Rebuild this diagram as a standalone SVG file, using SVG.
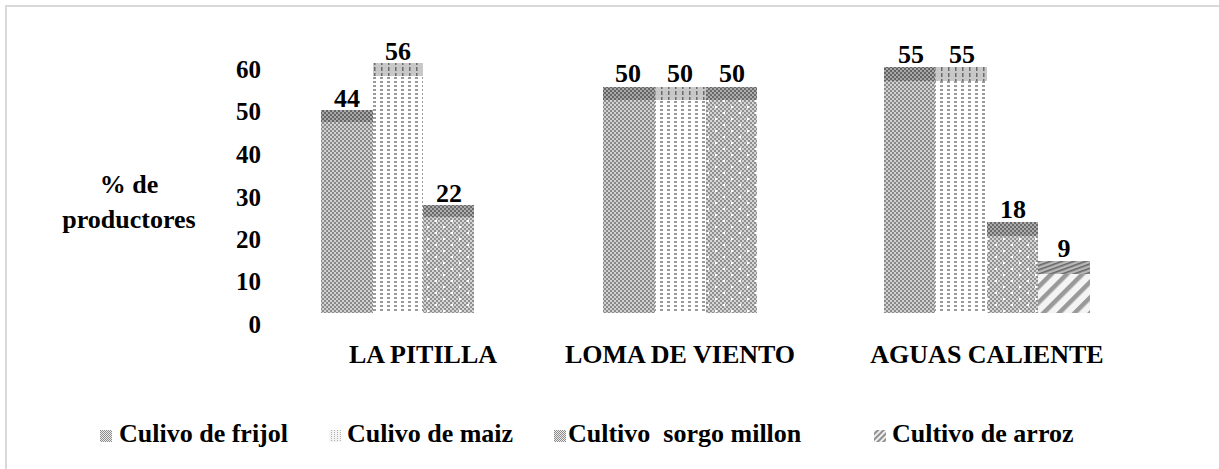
<svg xmlns="http://www.w3.org/2000/svg" width="1219" height="469" viewBox="0 0 1219 469">
<style>
  text { font-family: 'Liberation Serif', 'Tinos', 'Times New Roman', 'DejaVu Serif', serif; font-weight: 700; fill: #000; }
  .ax { font-size: 25px; text-anchor: end; }
  .val { font-size: 26px; text-anchor: middle; }
  .cat { font-size: 26px; text-anchor: middle; }
  .leg { font-size: 26px; white-space: pre; }
  .frame { stroke: #d9d9d9; stroke-width: 2; fill: none; }
</style>
<defs>
  <pattern id="pFrijol" width="4" height="4" patternUnits="userSpaceOnUse">
    <rect width="4" height="4" fill="#d2d2d2"/>
    <rect x="0" y="0" width="2" height="2" fill="#8a8a8a"/>
    <rect x="2" y="2" width="2" height="2" fill="#8a8a8a"/>
  </pattern>
  <pattern id="pFrijolCap" width="4" height="4" patternUnits="userSpaceOnUse">
    <rect width="4" height="4" fill="#a8a8a8"/>
    <rect x="0" y="0" width="2" height="2" fill="#656565"/>
    <rect x="2" y="2" width="2" height="2" fill="#656565"/>
  </pattern>
  <pattern id="pMaiz" width="7" height="4" patternUnits="userSpaceOnUse">
    <rect width="7" height="4" fill="#ffffff"/>
    <rect x="2" y="1" width="3" height="2" fill="#9a9a9a"/>
  </pattern>
  <pattern id="pMaizCap" width="7" height="6" patternUnits="userSpaceOnUse">
    <rect width="7" height="6" fill="#c8c8c8"/>
    <rect x="3" y="1" width="1.5" height="4" fill="#6a6a6a"/>
  </pattern>
  <pattern id="pSorgo" width="16" height="12" patternUnits="userSpaceOnUse">
    <rect width="16" height="12" fill="#d6d6d6"/>
    <path d="M0 0h2v2h-2zM4 0h2v2h-2zM8 0h2v2h-2zM12 0h2v2h-2zM2 2h2v2h-2zM6 2h2v2h-2zM10 2h2v2h-2zM14 2h2v2h-2zM0 4h2v2h-2zM4 4h2v2h-2zM8 4h2v2h-2zM12 4h2v2h-2zM2 6h2v2h-2zM6 6h2v2h-2zM10 6h2v2h-2zM14 6h2v2h-2zM0 8h2v2h-2zM4 8h2v2h-2zM8 8h2v2h-2zM12 8h2v2h-2zM2 10h2v2h-2zM6 10h2v2h-2zM10 10h2v2h-2zM14 10h2v2h-2z" fill="#909090"/>
    <rect x="3" y="4" width="2" height="2" fill="#ffffff"/>
    <rect x="11" y="10" width="2" height="2" fill="#ffffff"/>
  </pattern>
  <pattern id="pSorgoCap" width="4" height="4" patternUnits="userSpaceOnUse">
    <rect width="4" height="4" fill="#acacac"/>
    <rect x="0" y="0" width="2" height="2" fill="#6a6a6a"/>
    <rect x="2" y="2" width="2" height="2" fill="#6a6a6a"/>
  </pattern>
  <pattern id="pArroz" width="11" height="11" patternUnits="userSpaceOnUse" patternTransform="rotate(45)">
    <rect width="11" height="11" fill="#f4f4f4"/>
    <rect x="0" y="0" width="4.5" height="11" fill="#999999"/>
  </pattern>
  <pattern id="pArrozCap" width="4" height="4" patternUnits="userSpaceOnUse" patternTransform="rotate(-20)">
    <rect width="4" height="4" fill="#b8b8b8"/>
    <rect x="0" y="0" width="4" height="1.6" fill="#666666"/>
  </pattern>
  <pattern id="pLeg" width="2" height="2" patternUnits="userSpaceOnUse">
    <rect width="2" height="2" fill="#ececec"/>
    <rect width="1" height="1" fill="#8c8c8c"/>
    <rect x="1" y="1" width="1" height="1" fill="#8c8c8c"/>
  </pattern>
  <pattern id="pLegMaiz" width="3" height="2" patternUnits="userSpaceOnUse">
    <rect width="3" height="2" fill="#f4f4f4"/>
    <rect x="1" y="0" width="1" height="1" fill="#b0b0b0"/>
  </pattern>
  <pattern id="pLegArroz" width="4" height="4" patternUnits="userSpaceOnUse" patternTransform="rotate(45)">
    <rect width="4" height="4" fill="#eeeeee"/>
    <rect width="2" height="4" fill="#909090"/>
  </pattern>
</defs>

<rect width="1219" height="469" fill="#ffffff"/>
<g id="frame">
  <line class="frame" x1="5" y1="6" x2="1219" y2="6"/>
  <line class="frame" x1="6" y1="5" x2="6" y2="469"/>
</g>

<g id="y-axis">
  <text class="ax" x="261" y="78">60</text>
  <text class="ax" x="261" y="120">50</text>
  <text class="ax" x="261" y="163">40</text>
  <text class="ax" x="261" y="206">30</text>
  <text class="ax" x="261" y="248">20</text>
  <text class="ax" x="261" y="290">10</text>
  <text class="ax" x="261" y="333">0</text>
  <text class="cat" x="129" y="193">% de</text>
  <text class="cat" x="129" y="228">productores</text>
</g>

<g id="group-la-pitilla">
  <rect x="321" y="110" width="52" height="203" fill="url(#pFrijol)"/>
  <rect x="321" y="110" width="52" height="12" fill="url(#pFrijolCap)"/>
  <rect x="373" y="63" width="50" height="250" fill="url(#pMaiz)"/>
  <rect x="373" y="63" width="50" height="13" fill="url(#pMaizCap)"/>
  <rect x="423" y="205" width="51" height="108" fill="url(#pSorgo)"/>
  <rect x="423" y="205" width="51" height="12" fill="url(#pSorgoCap)"/>
  <text class="val" x="347" y="107">44</text>
  <text class="val" x="398" y="60">56</text>
  <text class="val" x="449" y="202">22</text>
  <text class="cat" x="423" y="363">LA PITILLA</text>
</g>

<g id="group-loma-de-viento">
  <rect x="603" y="87" width="52" height="226" fill="url(#pFrijol)"/>
  <rect x="603" y="87" width="52" height="13" fill="url(#pFrijolCap)"/>
  <rect x="655" y="87" width="51" height="226" fill="url(#pMaiz)"/>
  <rect x="655" y="87" width="51" height="13" fill="url(#pMaizCap)"/>
  <rect x="706" y="87" width="51" height="226" fill="url(#pSorgo)"/>
  <rect x="706" y="87" width="51" height="13" fill="url(#pSorgoCap)"/>
  <text class="val" x="628" y="82">50</text>
  <text class="val" x="680" y="82">50</text>
  <text class="val" x="732" y="82">50</text>
  <text class="cat" x="680" y="363">LOMA DE VIENTO</text>
</g>

<g id="group-aguas-caliente">
  <rect x="884" y="67" width="51" height="246" fill="url(#pFrijol)"/>
  <rect x="884" y="67" width="51" height="14" fill="url(#pFrijolCap)"/>
  <rect x="935" y="67" width="52" height="246" fill="url(#pMaiz)"/>
  <rect x="935" y="67" width="52" height="14" fill="url(#pMaizCap)"/>
  <rect x="987" y="222" width="51" height="91" fill="url(#pSorgo)"/>
  <rect x="987" y="222" width="51" height="14" fill="url(#pSorgoCap)"/>
  <rect x="1038" y="261" width="52" height="52" fill="url(#pArroz)"/>
  <rect x="1038" y="261" width="52" height="13" fill="url(#pArrozCap)"/>
  <text class="val" x="911" y="63">55</text>
  <text class="val" x="962" y="63">55</text>
  <text class="val" x="1013" y="218">18</text>
  <text class="val" x="1064" y="257">9</text>
  <text class="cat" x="987" y="363">AGUAS CALIENTE</text>
</g>

<g id="legend">
  <rect x="100" y="430" width="12" height="12" fill="url(#pLeg)"/>
  <text class="leg" x="119" y="442">Culivo de frijol</text>
  <rect x="329" y="430" width="12" height="12" fill="url(#pLegMaiz)"/>
  <text class="leg" x="347" y="442">Culivo de maiz</text>
  <rect x="554" y="430" width="12" height="12" fill="url(#pLeg)"/>
  <text class="leg" x="568" y="442">Cultivo  sorgo millon</text>
  <rect x="874" y="430" width="12" height="12" fill="url(#pLegArroz)"/>
  <text class="leg" x="892" y="442">Cultivo de arroz</text>
</g>
</svg>
